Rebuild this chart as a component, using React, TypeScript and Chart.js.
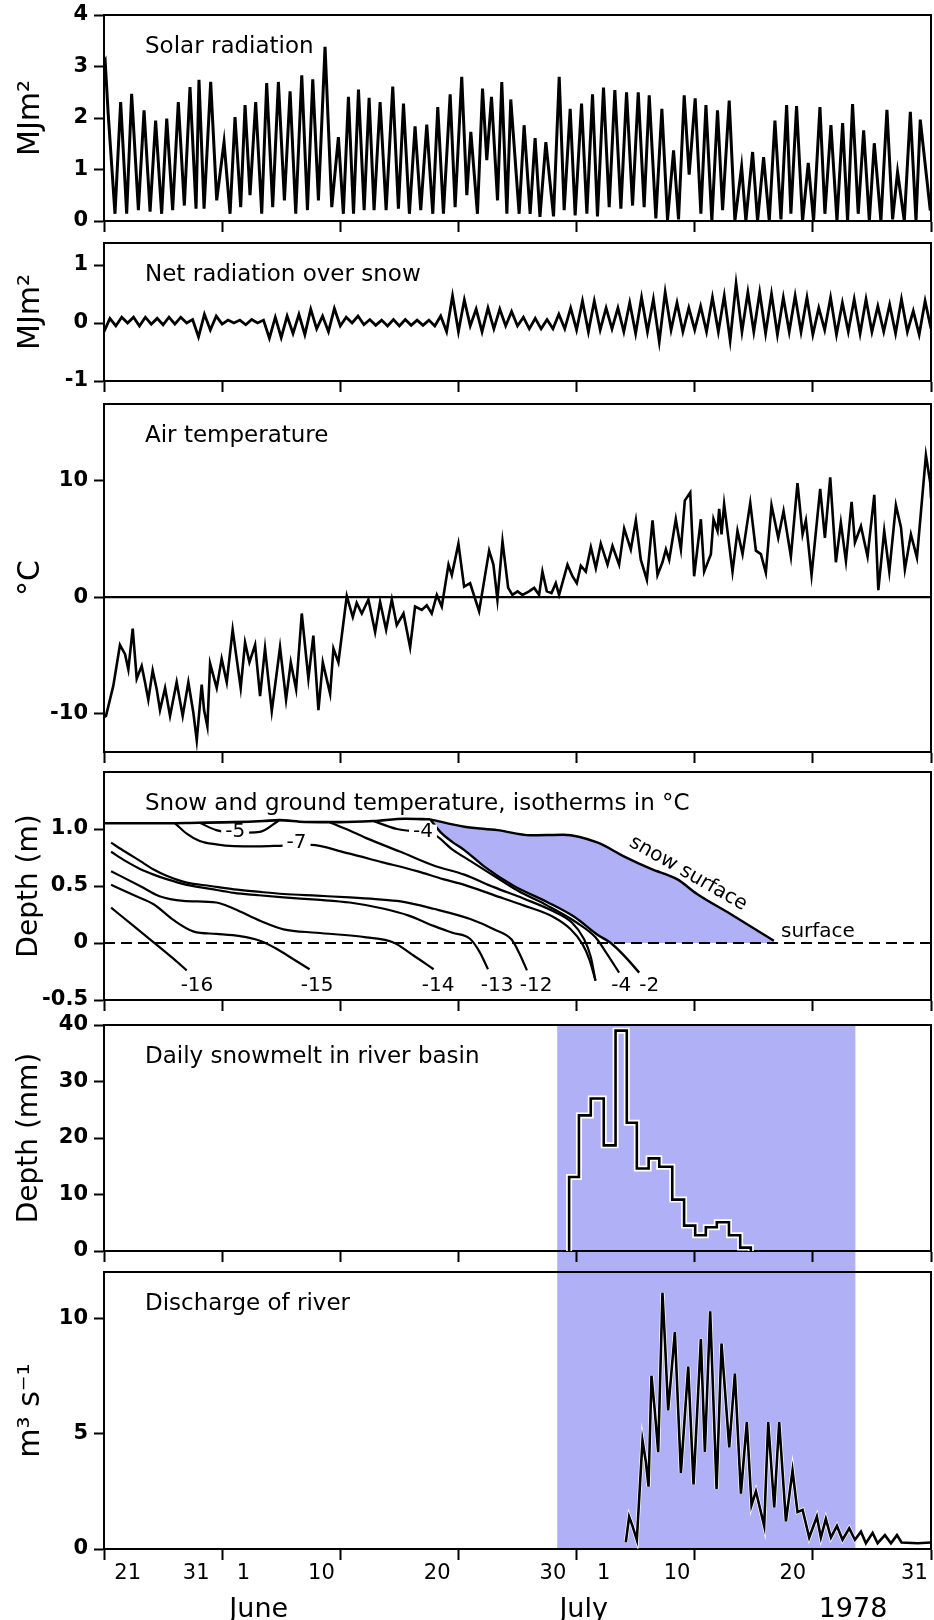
import React, { useEffect, useRef } from 'react';
import { Chart, registerables } from 'chart.js';

Chart.register(...registerables);

const FONT = "'DejaVu Sans'";
const INK = '#000000';
const BLUE = '#b0b0f7';

type P = [number, number];

// ===================== DATA =====================
// x axis: days since the first tick (late May 1978)
const dayTicks = [0, 10, 20, 30, 40, 50, 60, 70];
const dateLabelDays = [2.0, 7.8, 11.8, 18.4, 28.2, 38.0, 42.3, 48.5, 58.3, 68.6];
const dateLabels = ['21', '31', '1', '10', '20', '30', '1', '10', '20', '31'];
const monthLabelDays = [13.1, 40.6, 63.4];
const monthLabels = ['June', 'July', '1978'];
const meltSeason = [38.36, 63.6];

// y ticks per panel
const solarTicks = [0, 1, 2, 3, 4];
const solarTickLabels = ['0', '1', '2', '3', '4'];
const netTicks = [-1, 0, 1];
const netTickLabels = ['-1', '0', '1'];
const airTicks = [-10, 0, 10];
const airTickLabels = ['-10', '0', '10'];
const depthTicks = [-0.5, 0, 0.5, 1.0];
const depthTickLabels = ['-0.5', '0', '0.5', '1.0'];
const meltTicks = [0, 10, 20, 30, 40];
const meltTickLabels = ['0', '10', '20', '30', '40'];
const dischargeTicks = [0, 5, 10];
const dischargeTickLabels = ['0', '5', '10'];

// Solar radiation, MJ m-2 (day, value)
const solarRadiation: P[] = [
  [0, 3.05], [0.1, 3.1], [0.35, 2.1], [0.93, 0.14], [1.41, 2.31], [1.92, 0.14], [2.34, 2.47], [2.91, 0.21],
  [3.39, 2.15], [3.9, 0.18], [4.37, 1.95], [4.88, 0.14], [5.31, 1.99], [5.81, 0.21], [6.29, 2.31], [6.8, 0.3],
  [7.28, 2.6], [7.79, 0.24], [8.04, 2.74], [8.47, 0.24], [9.03, 2.7], [9.54, 0.4], [10.16, 1.53], [10.67, 0.14],
  [11.09, 2.02], [11.57, 0.27], [11.94, 2.25], [12.36, 0.5], [12.84, 2.31], [13.35, 0.14], [13.77, 2.68], [14.28, 0.27],
  [14.76, 2.7], [15.27, 0.4], [15.75, 2.52], [16.23, 0.14], [16.74, 2.83], [17.22, 0.21], [17.67, 2.75], [18.15, 0.4],
  [18.71, 3.38], [19.28, 0.27], [19.84, 1.63], [20.26, 0.14], [20.69, 2.41], [21.12, 0.14], [21.54, 2.55], [22.02, 0.21],
  [22.44, 2.39], [22.86, 0.21], [23.37, 2.31], [23.88, 0.21], [24.44, 2.61], [24.92, 0.24], [25.35, 2.28], [25.85, 0.14],
  [26.33, 1.84], [26.81, 0.21], [27.32, 1.87], [27.83, 0.14], [28.25, 2.21], [28.73, 0.14], [29.3, 2.46], [29.72, 0.27],
  [30.28, 2.8], [30.71, 0.5], [31.05, 1.73], [31.61, 0.14], [32.04, 2.57], [32.4, 1.18], [32.8, 2.41], [33.31, 0.4],
  [33.67, 2.7], [34.1, 0.14], [34.43, 2.36], [35.14, 0.14], [35.56, 1.86], [36.07, 0.14], [36.49, 1.61], [36.9, 0.08],
  [37.4, 1.53], [38.05, 0.09], [38.53, 2.8], [38.95, 0.21], [39.46, 2.18], [39.88, 0.11], [40.42, 2.28], [40.87, 0.14],
  [41.35, 2.46], [41.77, 0.09], [42.28, 2.59], [42.76, 0.27], [43.24, 2.54], [43.75, 0.24], [44.23, 2.5], [44.74, 0.3],
  [45.22, 2.5], [45.72, 0.27], [46.15, 2.44], [46.71, 0.05], [47.22, 2.18], [47.7, 0.02], [48.21, 1.37], [48.63, 0.03],
  [49.11, 2.44], [49.53, 0.9], [50.04, 2.38], [50.52, 0.14], [50.95, 2.25], [51.45, 0.0], [51.93, 2.15], [52.36, 0.21],
  [52.92, 2.34], [53.4, 0.0], [53.97, 1.05], [54.33, 0.0], [54.9, 1.34], [55.32, 0.0], [55.83, 1.24], [56.31, 0.0],
  [56.79, 1.95], [57.3, 0.03], [57.78, 2.25], [58.14, 0.14], [58.62, 2.23], [59.13, 0.0], [59.61, 1.13], [60.06, 0.0],
  [60.6, 2.21], [61.02, 0.14], [61.53, 1.86], [62.04, 0.0], [62.52, 1.9], [62.94, 0.0], [63.36, 2.27], [63.84, 0.14],
  [64.3, 1.76], [64.78, 0.0], [65.2, 1.51], [65.76, 0.0], [66.27, 2.16], [66.75, 0.03], [67.17, 0.95], [67.74, 0.0],
  [68.25, 2.12], [68.73, 0.0], [69.09, 1.97], [69.94, 0.2],
];

// Net radiation over snow, MJ m-2, sampled twice a day (night, midday)
const netRadiationStep = 0.5;
const netRadiation = [
  -0.15, 0.08, -0.05, 0.1, 0.0, 0.1, -0.05, 0.1, -0.02, 0.08,
  -0.03, 0.1, -0.02, 0.1, 0.0, 0.06, -0.24, 0.15, -0.12, 0.12,
  -0.02, 0.05, 0.0, 0.05, -0.03, 0.06, 0.0, 0.05, -0.26, 0.1,
  -0.25, 0.12, -0.18, 0.15, -0.2, 0.24, -0.1, 0.12, -0.15, 0.25,
  -0.05, 0.1, 0.0, 0.12, -0.03, 0.06, -0.04, 0.05, -0.05, 0.06,
  -0.05, 0.06, -0.04, 0.05, -0.04, 0.05, -0.05, 0.12, -0.15, 0.47,
  -0.15, 0.4, -0.05, 0.24, -0.15, 0.26, -0.1, 0.24, -0.05, 0.2,
  -0.05, 0.1, -0.1, 0.08, -0.1, 0.06, -0.1, 0.15, -0.1, 0.26,
  -0.12, 0.38, -0.15, 0.38, -0.12, 0.26, -0.1, 0.26, -0.15, 0.35,
  -0.18, 0.44, -0.15, 0.41, -0.32, 0.53, -0.12, 0.35, -0.15, 0.26,
  -0.12, 0.29, -0.15, 0.44, -0.15, 0.47, -0.3, 0.68, -0.15, 0.53,
  -0.15, 0.53, -0.18, 0.5, -0.2, 0.44, -0.15, 0.47, -0.15, 0.44,
  -0.2, 0.26, -0.12, 0.44, -0.2, 0.35, -0.15, 0.41, -0.18, 0.41,
  -0.15, 0.29, -0.15, 0.32, -0.18, 0.41, -0.15, 0.21, -0.2, 0.38,
  -0.1,
];

// Air temperature, deg C (day, value)
const airTemperature: P[] = [
  [0, -10.3], [0.17, -10.2], [0.79, -7.6], [1.35, -4.1], [1.78, -4.9], [2.06, -6.2], [2.43, -2.7], [2.77, -7.0],
  [3.19, -5.9], [3.47, -7.3], [3.75, -8.8], [4.12, -6.3], [4.46, -7.9], [4.74, -9.7], [5.17, -7.8], [5.59, -10.2],
  [6.15, -7.3], [6.66, -10.2], [7.14, -7.3], [7.56, -9.9], [7.85, -12.3], [8.27, -7.5], [8.47, -9.7], [8.75, -11.1],
  [8.98, -5.7], [9.54, -7.8], [9.96, -5.3], [10.39, -7.3], [10.89, -2.8], [11.23, -5.3], [11.57, -7.8], [11.94, -3.9],
  [12.31, -5.6], [12.79, -4.1], [13.21, -8.5], [13.63, -4.4], [14.2, -9.8], [14.9, -4.3], [15.41, -8.8], [15.81, -5.6],
  [16.26, -7.9], [16.74, -1.4], [17.3, -7.0], [17.72, -3.3], [18.15, -9.7], [18.52, -5.6], [19.14, -8.3], [19.42, -4.4],
  [19.84, -5.6], [20.55, 0.1], [21.06, -1.7], [21.39, -0.5], [21.82, -1.4], [22.38, -0.2], [22.95, -3.0], [23.37, -0.4],
  [23.88, -2.8], [24.36, -0.2], [24.78, -2.4], [25.35, -1.4], [25.91, -4.3], [26.33, -0.8], [26.9, -1.1], [27.32, -0.7],
  [27.74, -1.4], [28.17, 0.2], [28.59, -0.8], [29.16, 2.8], [29.44, 1.9], [30.0, 4.6], [30.48, 0.9], [30.99, 1.2],
  [31.75, -1.2], [32.6, 4.0], [32.96, 2.8], [33.3, -0.2], [33.73, 4.8], [34.21, 0.8], [34.57, 0.2], [35.0, 0.5],
  [35.42, 0.2], [35.98, 0.5], [36.41, 0.8], [36.83, 0.2], [37.11, 2.2], [37.48, 0.5], [37.88, 0.35], [38.24, 1.2],
  [38.52, 0.2], [39.23, 2.8], [39.65, 1.8], [40.02, 1.2], [40.36, 2.7], [40.78, 2.2], [41.21, 4.3], [41.63, 2.5],
  [42.05, 4.6], [42.62, 2.8], [43.04, 4.4], [43.6, 2.8], [44.03, 5.9], [44.59, 4.1], [45.02, 6.6], [45.44, 3.2],
  [45.95, 1.5], [46.43, 6.6], [46.85, 1.9], [47.27, 3.0], [47.56, 4.1], [47.84, 3.2], [48.4, 6.7], [48.83, 4.1],
  [49.16, 8.3], [49.62, 9.0], [49.95, 1.8], [50.52, 6.7], [50.8, 2.2], [51.37, 3.7], [51.59, 6.7], [51.93, 5.7],
  [52.07, 7.6], [52.27, 5.4], [52.49, 8.0], [53.2, 2.2], [53.62, 5.7], [54.05, 3.7], [54.7, 8.1], [55.18, 4.0],
  [55.6, 3.7], [56.02, 2.1], [56.5, 7.9], [57.07, 5.1], [57.52, 7.4], [58.14, 3.5], [58.7, 9.8], [59.13, 5.4],
  [59.41, 6.6], [59.89, 1.9], [60.62, 9.3], [61.02, 5.1], [61.47, 10.3], [61.95, 3.0], [62.37, 6.4], [62.8, 3.1],
  [63.28, 8.2], [63.56, 4.7], [64.07, 6.1], [64.63, 3.5], [65.2, 8.8], [65.54, 0.6], [66.04, 5.7], [66.47, 2.2],
  [67.03, 7.9], [67.46, 6.0], [67.79, 2.4], [68.3, 5.4], [68.81, 3.4], [69.57, 12.2], [69.94, 9.8], [70, 8.5],
];
const freezingLevel: P[] = [[0, 0], [70, 0]];

// Snow and ground temperature panel (day, depth m)
const groundSurface: P[] = [[0, 0], [70, 0]];
const snowSurfaceEarly: P[] = [
  [0, 1.05], [4, 1.05], [8, 1.055], [11, 1.06], [13.5, 1.07], [14.8, 1.078], [17, 1.062], [20, 1.06],
  [22.8, 1.07], [25.5, 1.09], [27.6, 1.085],
];
const snowSurface: P[] = [
  [27.6, 1.085], [30.5, 1.02], [33.3, 0.99], [36.1, 0.945], [38.9, 0.95], [41.8, 0.88], [44.0, 0.76],
  [46.3, 0.65], [48.5, 0.56], [50.2, 0.43], [53.1, 0.25], [56.7, 0.02],
];
const isoM2: P[] = [
  [27.6, 1.085], [28.5, 0.97], [29.5, 0.885], [30.5, 0.815], [32.2, 0.67], [34.7, 0.5], [37.5, 0.36],
  [39.8, 0.23], [41.8, 0.07], [42.9, 0], [44.2, -0.13], [45.3, -0.26],
];
const isoM4: P[] = [
  [22.8, 1.07], [24.8, 1.0], [26.3, 0.98], [27.8, 0.96], [29.5, 0.82], [31, 0.72], [33, 0.59], [35, 0.46],
  [37.5, 0.33], [40, 0.18], [41.6, 0.05], [42.6, -0.1], [43.6, -0.26],
];
const isoM5: P[] = [[8.1, 1.055], [9.5, 0.99], [11, 0.965], [13.2, 0.975], [14.8, 1.075]];
const isoLoop: P[] = [
  [19.1, 1.06], [20.5, 1.0], [22.2, 0.92], [25.1, 0.8], [27.9, 0.68], [30.5, 0.6], [33, 0.49], [35.5, 0.39],
  [38, 0.28], [39.6, 0.18], [40.6, 0.04], [41.2, -0.12], [41.6, -0.33],
];
const isoM7: P[] = [
  [6.0, 1.052], [7, 0.96], [8.1, 0.895], [9.5, 0.865], [11, 0.85], [13, 0.848], [15.2, 0.855], [17.5, 0.86],
  [20.5, 0.79], [23.5, 0.71], [26.5, 0.63], [28.7, 0.56], [30.5, 0.51], [33, 0.42], [35.5, 0.33], [38, 0.23],
  [39.5, 0.12], [40.5, -0.01], [41.1, -0.15], [41.6, -0.33],
];
const isoM12: P[] = [
  [0.6, 0.88], [1.8, 0.8], [3.05, 0.72], [4.2, 0.645], [5.3, 0.59], [7.0, 0.53], [9, 0.5], [11, 0.47],
  [13, 0.45], [15.2, 0.43], [18, 0.415], [20.8, 0.4], [23, 0.385], [25.1, 0.365], [27.9, 0.3], [31, 0.21],
  [33, 0.12], [34.5, 0.03], [35.2, -0.1], [35.8, -0.24],
];
const isoM13: P[] = [
  [0.6, 0.8], [1.8, 0.72], [3.05, 0.65], [4.2, 0.6], [5.3, 0.56], [7, 0.51], [9, 0.475], [11, 0.44],
  [13, 0.42], [15.2, 0.4], [18, 0.38], [20.8, 0.355], [23.7, 0.3], [25.8, 0.24], [27.9, 0.15], [29.5, 0.09],
  [31, 0.035], [31.8, -0.08], [32.5, -0.23],
];
const isoM14: P[] = [
  [0.6, 0.63], [3.05, 0.5], [4.7, 0.41], [6.7, 0.37], [9.5, 0.355], [11, 0.3], [13.2, 0.195], [15.2, 0.12],
  [18, 0.09], [22.2, 0.05], [24.5, 0.005], [26.2, -0.11], [27.9, -0.23],
];
const isoM15: P[] = [
  [0.6, 0.51], [2.5, 0.42], [4.2, 0.34], [5.9, 0.2], [7.6, 0.1], [9.5, 0.08], [11.5, 0.06], [13.2, 0.02],
  [14.6, -0.05], [16, -0.14], [17.4, -0.23],
];
const isoM16: P[] = [[0.6, 0.31], [2.5, 0.15], [4.2, 0.006], [5.9, -0.14], [7.0, -0.24]];

// Isotherm labels (anchor in day / depth units)
const isoLabelText = ['-16', '-15', '-14', '-13', '-12', '-4', '-2', '-5', '-7', '-4'];
const isoLabelDay = [7.87, 18.04, 28.28, 33.28, 36.58, 43.78, 46.15, 11.1, 16.3, 27.0];
const isoLabelDepth = [-0.375, -0.375, -0.375, -0.375, -0.375, -0.375, -0.375, 0.975, 0.88, 0.977];
const isoLabelOnLine = [false, false, false, false, false, false, false, true, true, true];
const snowSurfaceLabelAt: P = [49.45, 0.61];
const surfaceLabelAt: P = [57.3, 0.1];

// Daily snowmelt, mm (step start day, depth)
const dailySnowmelt: P[] = [
  [39.37, 0], [39.37, 13.1], [40.2, 24.0], [41.2, 27.0], [42.3, 18.7], [43.3, 39.0], [44.25, 22.7],
  [45.1, 14.6], [46.1, 16.4], [47.0, 14.9], [48.1, 9.1], [49.1, 4.5], [50.04, 2.8], [50.94, 4.2],
  [51.87, 5.1], [52.9, 2.8], [53.85, 0.6], [54.75, 0],
];

// Discharge of river, m3 s-1
const riverDischarge: P[] = [
  [44.17, 0.3], [44.45, 1.4], [44.73, 1.0], [45.1, 0.4], [45.58, 4.7], [45.86, 3.8], [46.09, 2.7], [46.34, 7.5],
  [46.62, 6.0], [46.91, 4.2], [47.27, 11.1], [47.5, 8.8], [47.75, 6.0], [48.32, 9.4], [48.83, 3.3], [49.45, 7.9],
  [49.9, 2.8], [50.52, 9.1], [50.86, 4.2], [51.31, 10.3], [51.85, 2.6], [52.27, 8.9], [52.92, 4.4], [53.4, 7.6],
  [53.91, 2.4], [54.41, 5.5], [54.81, 1.9], [55.18, 2.5], [55.88, 1.0], [56.22, 5.5], [56.73, 1.8], [57.15, 5.5],
  [57.72, 1.2], [58.28, 3.4], [58.7, 1.6], [59.13, 1.7], [59.69, 0.5], [60.34, 1.4], [60.68, 0.5], [61.1, 1.3],
  [61.53, 0.5], [62.04, 1.0], [62.51, 0.4], [63.08, 0.9], [63.56, 0.4], [64.07, 0.75], [64.49, 0.25], [65.06, 0.7],
  [65.48, 0.25], [66.1, 0.6], [66.61, 0.25], [67.12, 0.6], [67.51, 0.28], [68.87, 0.25], [70, 0.28],
];

// ===================== HELPERS =====================
const toXY = (a: P[]) => a.map(([x, y]) => ({ x, y }));

function lineDs(data: P[], extra: any = {}) {
  return { data: toXY(data), borderColor: INK, borderWidth: 2.4, pointRadius: 0, fill: false, tension: 0, ...extra };
}
function curveDs(data: P[], extra: any = {}) {
  return lineDs(data, { cubicInterpolationMode: 'monotone', borderWidth: 2.2, ...extra });
}

function dayAxis() {
  return {
    type: 'linear', position: 'bottom', min: 0, max: 70, weight: 0,
    afterBuildTicks: (s: any) => { s.ticks = dayTicks.map((v) => ({ value: v })); },
    afterFit: (s: any) => { s.height = 0; },
    ticks: { display: false },
    grid: { display: true, drawOnChartArea: false, drawTicks: true, tickLength: 11, tickWidth: 2, tickColor: INK },
    border: { display: true, color: INK, width: 2 },
  };
}

function labelAxis(days: number[], labels: string[], size: number, padding: number, height: number, weight: number) {
  return {
    type: 'linear', position: 'bottom', min: 0, max: 70, weight,
    afterBuildTicks: (s: any) => { s.ticks = days.map((v) => ({ value: v })); },
    afterFit: (s: any) => { s.height = height; },
    ticks: {
      autoSkip: false, maxRotation: 0, minRotation: 0, padding, color: INK,
      font: { family: FONT, size }, callback: (_v: any, i: number) => labels[i],
    },
    grid: { display: false },
    border: { display: false },
  };
}

function valueAxis(min: number, max: number, ticks: number[], labels: string[], title: string, titleSize = 28) {
  return {
    type: 'linear', position: 'left', min, max,
    afterBuildTicks: (s: any) => { s.ticks = ticks.map((v) => ({ value: v })); },
    afterFit: (s: any) => { s.width = 104; },
    ticks: {
      padding: 6, color: INK, font: { family: FONT, size: 21, weight: 'bold' },
      callback: (_v: any, i: number) => labels[i],
    },
    grid: { drawOnChartArea: false, drawTicks: true, tickLength: 10, tickWidth: 2, tickColor: INK },
    border: { display: true, color: INK, width: 2 },
    title: {
      display: true, text: title, color: INK, font: { family: FONT, size: titleSize },
      padding: { top: 13, bottom: 0 },
    },
  };
}

function decor(title: string, opts: { band?: number; draw?: (c: any) => void } = {}) {
  return {
    id: 'decor',
    beforeDraw(chart: any) {
      if (opts.band === undefined) return;
      const { ctx, chartArea: a } = chart;
      const xs = chart.scales.x;
      const x0 = xs.getPixelForValue(meltSeason[0]);
      const x1 = xs.getPixelForValue(meltSeason[1]);
      ctx.save();
      ctx.fillStyle = BLUE;
      ctx.fillRect(x0, a.top, x1 - x0, a.bottom + opts.band - a.top);
      ctx.restore();
    },
    afterDatasetsDraw(chart: any) {
      if (opts.draw) opts.draw(chart);
    },
    afterDraw(chart: any) {
      const { ctx, chartArea: a } = chart;
      ctx.save();
      ctx.strokeStyle = INK;
      ctx.lineWidth = 2;
      ctx.beginPath();
      ctx.moveTo(a.left - 1, a.top);
      ctx.lineTo(a.right, a.top);
      ctx.lineTo(a.right, a.bottom + 1);
      ctx.stroke();
      ctx.fillStyle = INK;
      ctx.font = `23px ${FONT}`;
      ctx.textAlign = 'left';
      ctx.textBaseline = 'middle';
      ctx.fillText(title, a.left + 41, a.top + 32);
      ctx.restore();
    },
  };
}

function drawSnowText(chart: any) {
  const { ctx } = chart;
  const xs = chart.scales.x;
  const ys = chart.scales.y;
  ctx.save();
  ctx.font = `20px ${FONT}`;
  ctx.textAlign = 'center';
  ctx.textBaseline = 'middle';
  isoLabelText.forEach((t, i) => {
    const px = xs.getPixelForValue(isoLabelDay[i]);
    const py = ys.getPixelForValue(isoLabelDepth[i]);
    if (isoLabelOnLine[i]) {
      const w = ctx.measureText(t).width;
      ctx.fillStyle = '#ffffff';
      ctx.fillRect(px - w / 2 - 4, py - 7, w + 8, 14);
    }
    ctx.fillStyle = INK;
    ctx.fillText(t, px, py);
  });
  // rotated "snow surface"
  const a = snowSurface[7];
  const b = snowSurface[10];
  const ang = Math.atan2(
    ys.getPixelForValue(b[1]) - ys.getPixelForValue(a[1]),
    xs.getPixelForValue(b[0]) - xs.getPixelForValue(a[0]),
  );
  ctx.save();
  ctx.translate(xs.getPixelForValue(snowSurfaceLabelAt[0]), ys.getPixelForValue(snowSurfaceLabelAt[1]));
  ctx.rotate(ang);
  ctx.fillText('snow surface', 0, 0);
  ctx.restore();
  ctx.textAlign = 'left';
  ctx.fillText('surface', xs.getPixelForValue(surfaceLabelAt[0]), ys.getPixelForValue(surfaceLabelAt[1]));
  ctx.restore();
}

function baseOptions(yAxis: any, extraScales: any = {}, padBottom = 24) {
  return {
    responsive: false,
    animation: false,
    events: [],
    layout: { padding: { top: 24, bottom: padBottom, left: 0, right: 3 } },
    plugins: { legend: { display: false }, tooltip: { enabled: false } },
    scales: { x: dayAxis(), ...extraScales, y: yAxis },
  };
}

// ===================== PANELS (layout) =====================
const M = 24;
type Panel = { areaTop: number; areaBottom: number; last?: boolean; config: () => any };

const panels: Panel[] = [
  {
    areaTop: 15, areaBottom: 221,
    config: () => ({
      type: 'line',
      data: { datasets: [lineDs(solarRadiation, { borderWidth: 3 })] },
      options: baseOptions(valueAxis(0, 4, solarTicks, solarTickLabels, 'MJm²', 30)),
      plugins: [decor('Solar radiation')],
    }),
  },
  {
    areaTop: 243, areaBottom: 381,
    config: () => ({
      type: 'line',
      data: { datasets: [lineDs(netRadiation.map((v, i) => [i * netRadiationStep, v] as P), { borderWidth: 2.8 })] },
      options: baseOptions(valueAxis(-1, 1.38, netTicks, netTickLabels, 'MJm²', 30)),
      plugins: [decor('Net radiation over snow')],
    }),
  },
  {
    areaTop: 404, areaBottom: 752,
    config: () => ({
      type: 'line',
      data: { datasets: [lineDs(airTemperature, { borderWidth: 2.6 }), lineDs(freezingLevel, { borderWidth: 2.2 })] },
      options: baseOptions(valueAxis(-13.3, 16.6, airTicks, airTickLabels, '°C', 30)),
      plugins: [decor('Air temperature')],
    }),
  },
  {
    areaTop: 772, areaBottom: 1000,
    config: () => ({
      type: 'line',
      data: {
        datasets: [
          curveDs(isoM2.filter((p) => p[1] >= 0).concat([[58, 0]] as P[]), { borderWidth: 0, order: 4 }),
          curveDs(snowSurface, { fill: { target: 0 }, backgroundColor: BLUE, borderWidth: 2.4, order: 3 }),
          lineDs(groundSurface, { borderWidth: 2, borderDash: [11, 6], order: 2 }),
          curveDs(snowSurfaceEarly, { borderWidth: 2.6 }),
          curveDs(isoM2, { borderWidth: 2.4 }),
          curveDs(isoM4),
          curveDs(isoM5),
          curveDs(isoLoop),
          curveDs(isoM7),
          curveDs(isoM12),
          curveDs(isoM13),
          curveDs(isoM14),
          curveDs(isoM15),
          curveDs(isoM16),
        ],
      },
      options: baseOptions(valueAxis(-0.5, 1.5, depthTicks, depthTickLabels, 'Depth (m)')),
      plugins: [decor('Snow and ground temperature, isotherms in °C', { draw: drawSnowText })],
    }),
  },
  {
    areaTop: 1025, areaBottom: 1251,
    config: () => ({
      type: 'line',
      data: {
        datasets: [
          lineDs(dailySnowmelt, { stepped: 'before', borderColor: '#ffffff', borderWidth: 6, order: 1 }),
          lineDs(dailySnowmelt, { stepped: 'before', borderWidth: 2.6, order: 0 }),
        ],
      },
      options: baseOptions(valueAxis(0, 40, meltTicks, meltTickLabels, 'Depth (mm)')),
      plugins: [decor('Daily snowmelt in river basin', { band: 21 })],
    }),
  },
  {
    areaTop: 1272, areaBottom: 1549, last: true,
    config: () => ({
      type: 'line',
      data: {
        datasets: [
          lineDs(riverDischarge, { borderColor: '#ffffff', borderWidth: 4, order: 1 }),
          lineDs(riverDischarge, { borderWidth: 2.6, order: 0 }),
        ],
      },
      options: baseOptions(
        valueAxis(0, 12, dischargeTicks, dischargeTickLabels, 'm³ s⁻¹', 30),
        {
          xd: labelAxis(dateLabelDays, dateLabels, 21, 4, 30, 1),
          xm: labelAxis(monthLabelDays, monthLabels, 27, 7, 41, 2),
        },
        0,
      ),
      plugins: [decor('Discharge of river', { band: 0 })],
    }),
  },
];

export default function App() {
  const refs = useRef<(HTMLCanvasElement | null)[]>([]);

  useEffect(() => {
    const charts = panels.map((p, i) => new Chart(refs.current[i] as HTMLCanvasElement, p.config()));
    return () => charts.forEach((c) => c.destroy());
  }, []);

  return (
    <div style={{ position: 'absolute', left: 0, top: 0, width: 934, height: 1620, background: '#ffffff', overflow: 'hidden' }}>
      {panels.map((p, i) => {
        const top = p.areaTop - M;
        const h = p.last ? 1620 - top : p.areaBottom + M - top;
        return (
          <canvas
            key={i}
            ref={(el) => { refs.current[i] = el; }}
            width={934}
            height={h}
            style={{ position: 'absolute', left: 0, top, width: 934, height: h }}
          />
        );
      })}
    </div>
  );
}
